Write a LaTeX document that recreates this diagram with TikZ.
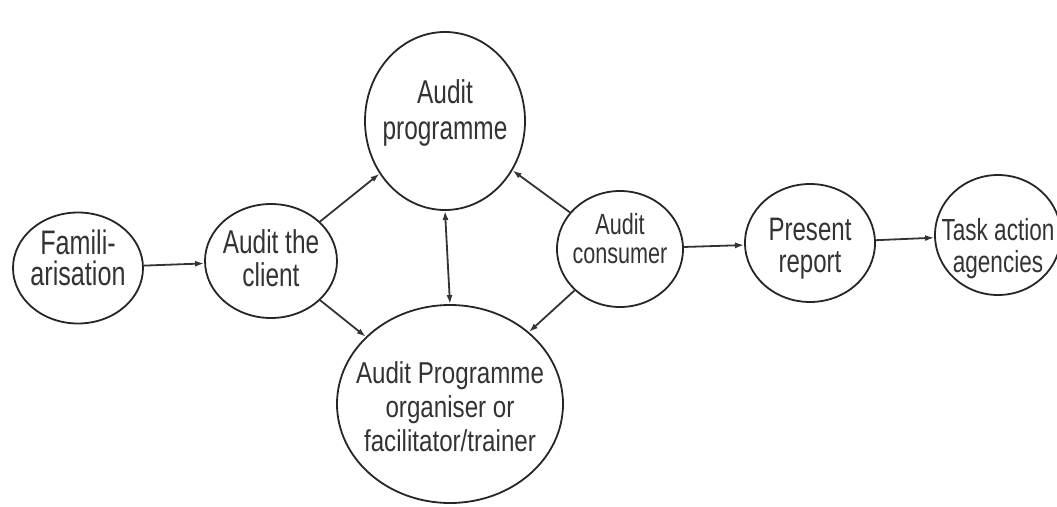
\documentclass[tikz,border=0pt]{standalone}
\usepackage{fontspec}
\setmainfont[FakeStretch=0.74]{Liberation Sans}
\newfontfamily\widerfont[FakeStretch=0.8]{Liberation Sans}
\usetikzlibrary{shapes.geometric,arrows.meta}
\begin{document}
\begin{tikzpicture}[x=1pt,y=-1pt,
  bubble/.style={draw=black!85, line width=1.8pt, ellipse, inner sep=0pt},
  caption/.style={align=center, text=black!80, inner sep=0pt},
  fs/.style 2 args={font=\fontsize{#1}{#2}\selectfont},
  link/.style={draw=black!80, line width=1.8pt, -{Latex[length=9pt,width=6pt]}},
  dlink/.style={draw=black!80, line width=1.8pt, {Latex[length=9pt,width=6pt]}-{Latex[length=9pt,width=6pt]}}]
\useasboundingbox (0,0) rectangle (1057,506);
% outlines
\node[bubble, minimum width=130pt, minimum height=111pt] (fam)  at (78,268)  {};
\node[bubble, minimum width=132pt, minimum height=114pt] (cli)  at (271,261) {};
\node[bubble, minimum width=160pt, minimum height=178pt] (prog) at (445,121) {};
\node[bubble, minimum width=226pt, minimum height=198pt] (org)  at (450,404) {};
\node[bubble, minimum width=126pt, minimum height=116pt] (con)  at (620,249) {};
\node[bubble, minimum width=130pt, minimum height=118pt] (pre)  at (810,243) {};
\node[bubble, minimum width=126pt, minimum height=120pt] (task) at (998,235) {};
% labels
\node[caption, fs={34}{31}] (fam-t)  at ([yshift=10pt]fam.center)  {Famili-\\arisation};
\node[caption, fs={33}{33}] (cli-t)  at ([yshift=3pt]cli.center)   {Audit the\\client};
\node[caption, fs={33}{36}] (prog-t) at ([yshift=8pt]prog.center)  {Audit\\programme};
\node[caption, font=\widerfont\fontsize{30.2}{34}\selectfont] (org-t) at ([yshift=-3pt]org.center) {Audit Programme\\organiser or\\facilitator/trainer};
\node[caption, fs={29.2}{29}] (con-t)  at ([yshift=10pt]con.center)  {Audit\\consumer};
\node[caption, fs={32.5}{32}] (pre-t)  at ([yshift=-6pt]pre.center)  {Present\\report};
\node[caption, fs={30.5}{32}] (task-t) at ([yshift=-14pt]task.center) {Task action\\agencies};
% connectors
\draw[link] (fam) -- (cli);
\draw[link] (cli) -- (prog);
\draw[link] (cli) -- (org);
\draw[dlink] (prog.south) -- (org.north);
\draw[link] (con) -- (prog);
\draw[link] (con) -- (org);
\draw[link] (con) -- (pre);
\draw[link] (pre) -- (task);
\end{tikzpicture}
\end{document}
